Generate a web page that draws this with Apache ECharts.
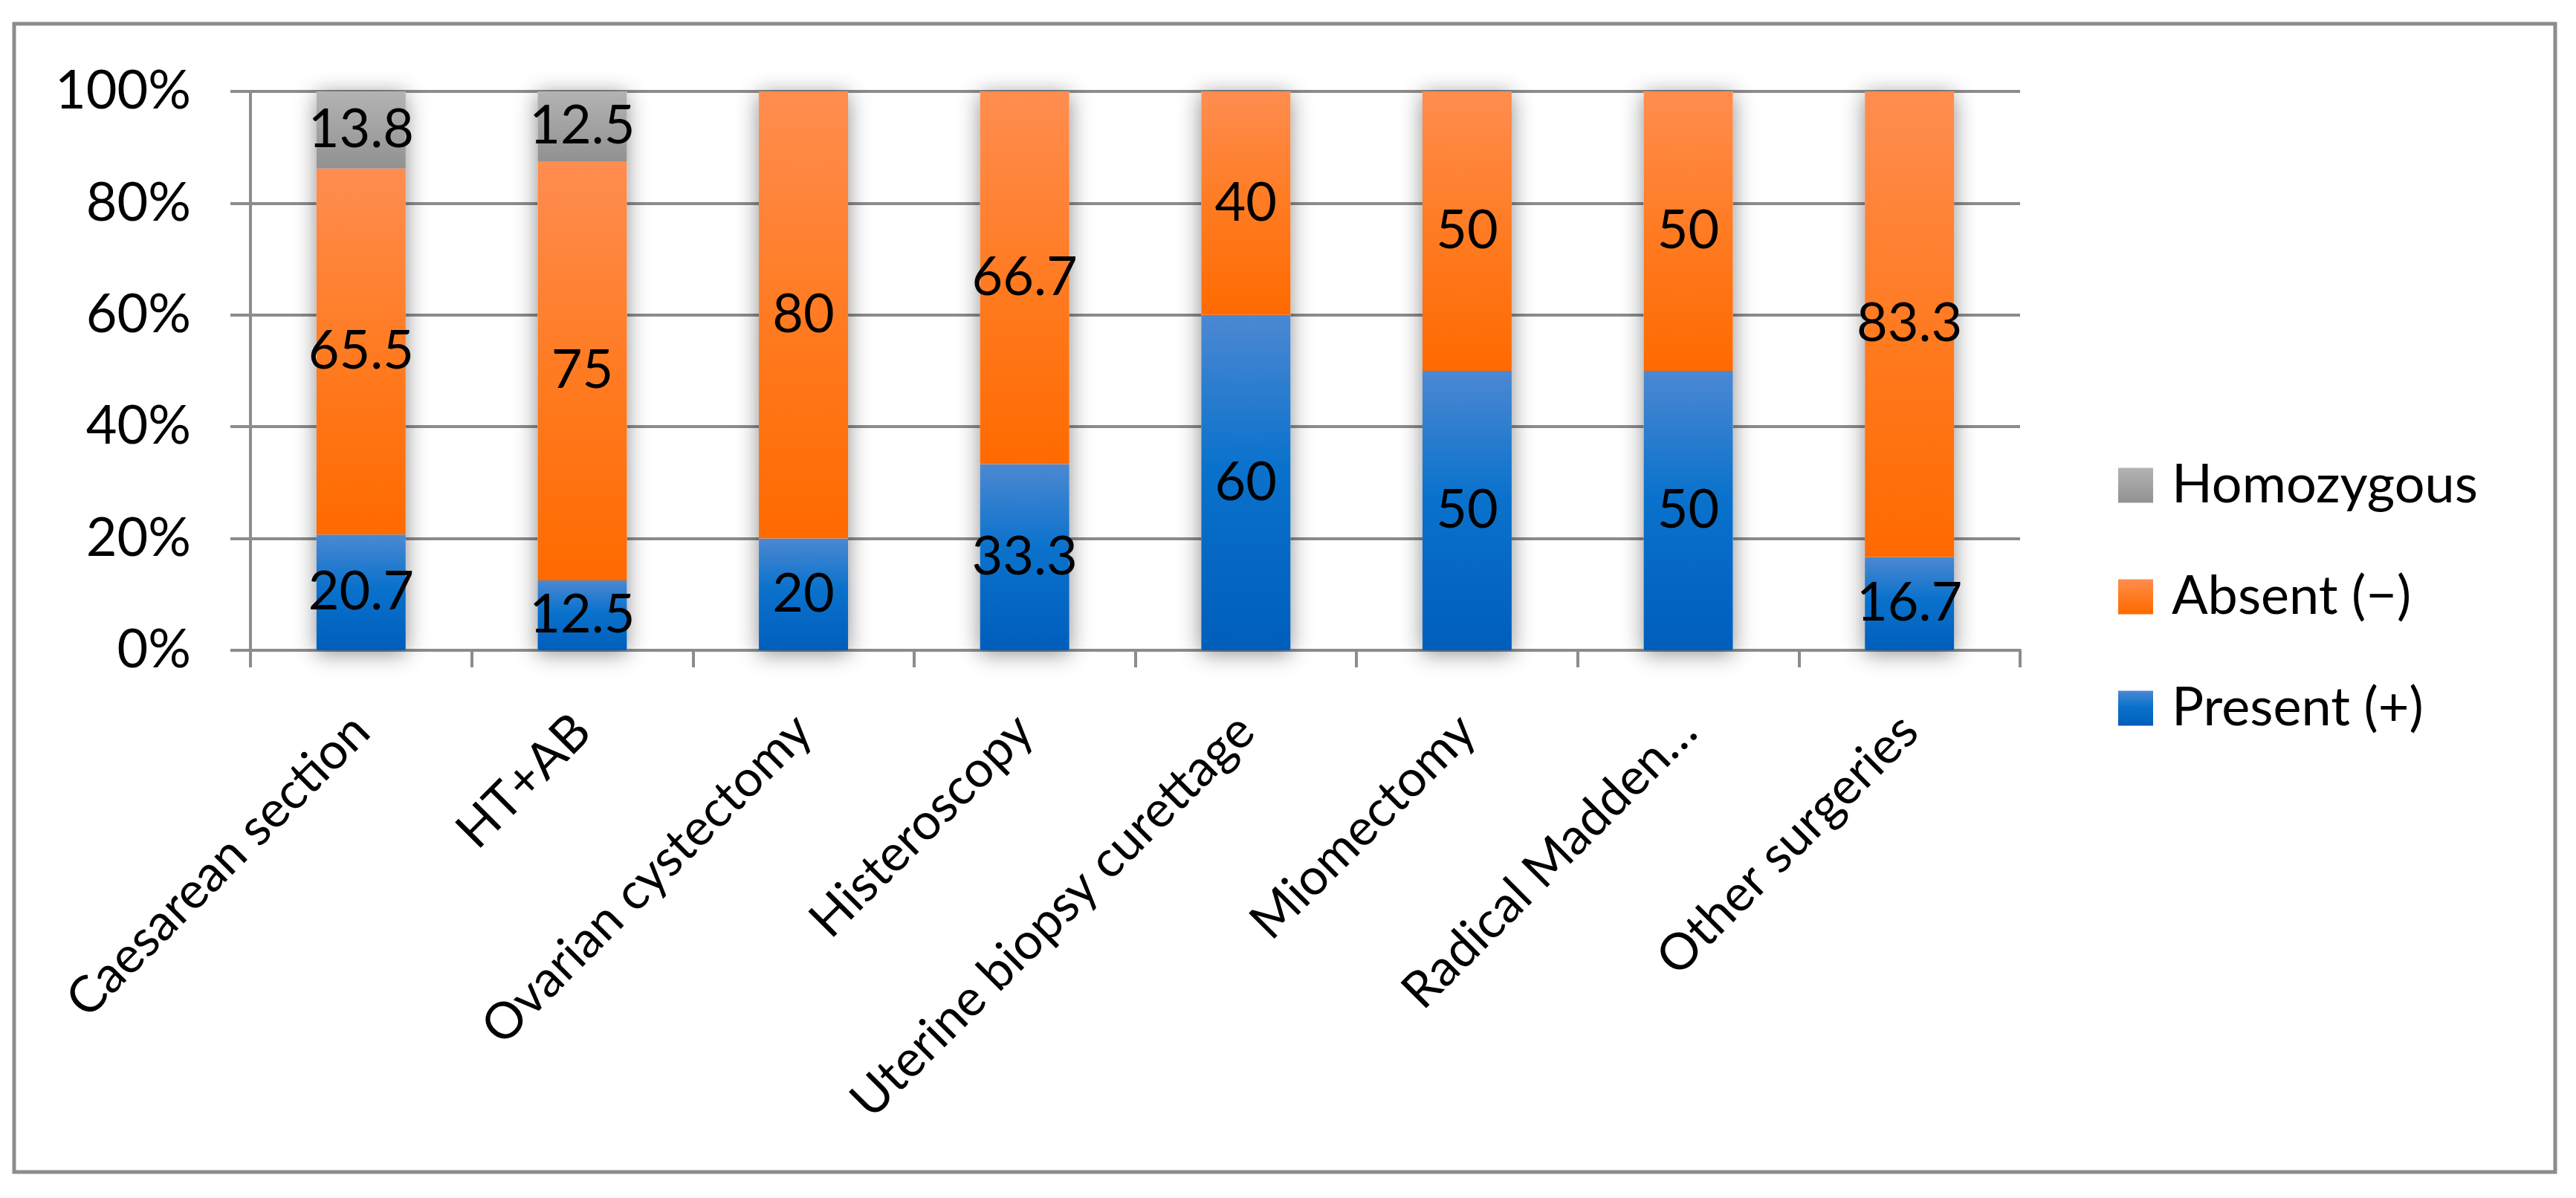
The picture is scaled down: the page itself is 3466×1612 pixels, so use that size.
<!DOCTYPE html>
<html>
<head>
<meta charset="utf-8">
<script src="https://cdn.jsdelivr.net/npm/echarts@6/dist/echarts.min.js"></script>
<style>
html,body{margin:0;padding:0;background:#fff;}
#chart{width:3466px;height:1612px;}
</style>
</head>
<body>
<div id="chart"></div>
<script>
var categories = ['Caesarean section', 'HT+AB', 'Ovarian cystectomy', 'Histeroscopy', 'Uterine biopsy curettage', 'Miomectomy', 'Radical Madden\u2026', 'Other surgeries'];
var present = [20.7, 12.5, 20, 33.3, 60, 50, 50, 16.7];
var absent = [65.5, 75, 80, 66.7, 40, 50, 50, 83.3];
var homozygous = [13.8, 12.5, 0, 0, 0, 0, 0, 0];
var yTicks = [0, 20, 40, 60, 80, 100];

var FONT = 'Lato';
var FS = 72;
var GRAY = '#8C8C8C';

function grad(stops) {
  return new echarts.graphic.LinearGradient(0, 0, 0, 1, stops.map(function (s) { return { offset: s[0], color: s[1] }; }));
}
var blueGrad = grad([[0, '#4C88D2'], [0.45, '#0A72CC'], [1, '#005EBC']]);
var orangeGrad = grad([[0, '#FF8D50'], [0.5, '#FF7B22'], [1, '#FF6A00']]);
var grayGrad = grad([[0, '#B3B3B3'], [1, '#919191']]);

var totals = categories.map(function (c, i) { return present[i] + absent[i] + homozygous[i]; });

function labelCfg() {
  return {
    show: true,
    position: 'inside',
    color: '#000',
    fontFamily: FONT,
    fontSize: FS,
    formatter: function (p) { return p.value === 0 ? '' : String(p.value); }
  };
}

var chart = echarts.init(document.getElementById('chart'), null, { renderer: 'canvas' });
chart.setOption({
  animation: false,
  backgroundColor: '#fff',
  textStyle: { fontFamily: FONT },
  graphic: [{
    type: 'rect',
    shape: { x: 19, y: 32, width: 3419, height: 1545 },
    style: { fill: 'none', stroke: GRAY, lineWidth: 5 },
    silent: true,
    z: -10
  }],
  grid: { left: 337, right: 748, top: 123, bottom: 737, containLabel: false },
  legend: {
    orient: 'vertical',
    left: 2850,
    top: 613,
    padding: 0,
    itemWidth: 47,
    itemHeight: 47,
    itemGap: 70,
    icon: 'rect',
    data: ['Homozygous', 'Absent (\u2212)', 'Present (+)'],
    textStyle: { fontFamily: FONT, fontSize: FS, color: '#000', lineHeight: 80, padding: [0, 0, 0, 20] }
  },
  xAxis: {
    type: 'category',
    data: categories,
    axisLine: { show: true, lineStyle: { color: GRAY, width: 4 } },
    axisTick: { show: true, length: 23, lineStyle: { color: GRAY, width: 4 } },
    axisLabel: { interval: 0, rotate: 45, margin: 98, color: '#000', fontFamily: FONT, fontSize: 68 },
    splitLine: { show: false }
  },
  yAxis: {
    type: 'value',
    min: yTicks[0],
    max: yTicks[yTicks.length - 1],
    interval: 20,
    axisLine: { show: true, lineStyle: { color: GRAY, width: 4 } },
    axisTick: { show: true, length: 27, lineStyle: { color: GRAY, width: 4 } },
    axisLabel: { margin: 80, color: '#000', fontFamily: FONT, fontSize: FS, formatter: '{value}%' },
    splitLine: { show: true, lineStyle: { color: GRAY, width: 4 } }
  },
  series: [
    {
      name: 'shadow',
      type: 'bar',
      data: totals,
      barWidth: 120,
      barGap: '-100%',
      silent: true,
      itemStyle: { color: '#fff', shadowColor: 'rgba(0,0,0,0.45)', shadowBlur: 28, shadowOffsetX: 0, shadowOffsetY: 4 },
      label: { show: false },
      z: 2
    },
    {
      name: 'Present (+)',
      type: 'bar',
      stack: 'total',
      data: present,
      barWidth: 120,
      itemStyle: { color: blueGrad },
      label: labelCfg(),
      z: 3
    },
    {
      name: 'Absent (\u2212)',
      type: 'bar',
      stack: 'total',
      data: absent,
      barWidth: 120,
      itemStyle: { color: orangeGrad },
      label: labelCfg(),
      z: 3
    },
    {
      name: 'Homozygous',
      type: 'bar',
      stack: 'total',
      data: homozygous,
      barWidth: 120,
      barGap: '-100%',
      itemStyle: { color: grayGrad },
      label: labelCfg(),
      z: 3
    }
  ]
});
</script>
</body>
</html>
